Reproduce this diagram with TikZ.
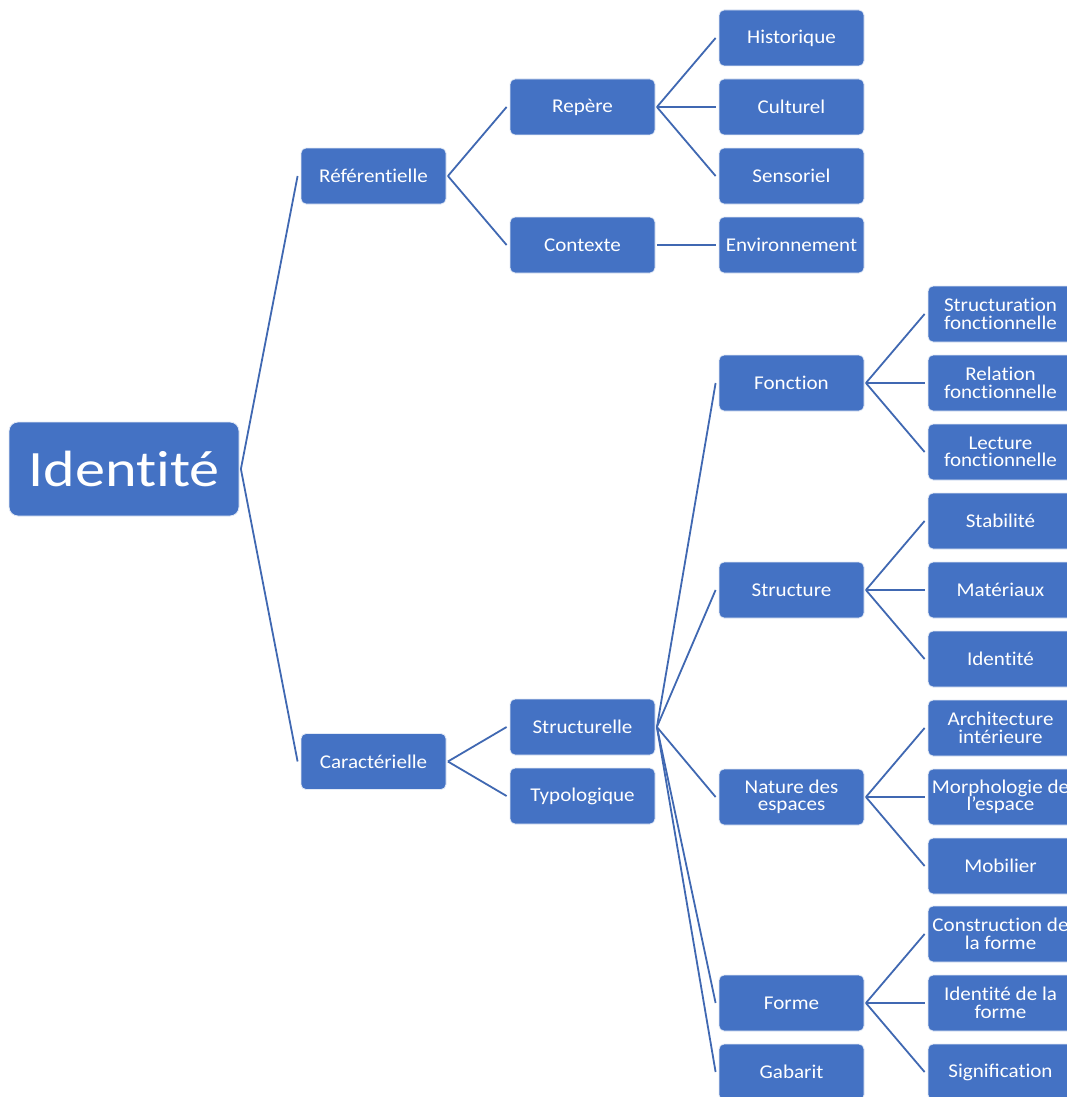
\documentclass[tikz,border=0pt]{standalone}
\usepackage{fontspec}
\setmainfont{Carlito}[FakeStretch=1.08]
\newfontfamily\bigfont{Carlito}[FakeStretch=1.18]
\newcommand\tiX{t\kern0pt i}
\definecolor{boxblue}{HTML}{4472C4}
\definecolor{lineblue}{HTML}{4068B2}
\begin{document}
\begin{tikzpicture}[x=1pt,y=-1pt,
  box/.style={draw=white!85!boxblue, line width=0.8pt, fill=boxblue, rounded corners=5pt,
    minimum width=145pt, minimum height=56pt, inner sep=0pt, text=white, align=center,
    font=\fontsize{19.5}{17.5}\selectfont},
  rootbox/.style={box, minimum width=230pt, minimum height=94pt, rounded corners=9pt,
    font=\bigfont\fontsize{51}{55}\selectfont},
  conn/.style={draw=lineblue, line width=1.8pt}]
\clip (0,0) rectangle (1067,1097);
\fill[white] (0,0) rectangle (1067,1097);
% root
\node[rootbox] (id) at (124,469) {Iden\tiX{}té};
% level 1
\node[box] (ref) at (373.5,176) {Référen\tiX{}elle};
\node[box] (car) at (373.5,761.5) {Caractérielle};
% level 2
\node[box] (rep) at (582.5,107) {Repère};
\node[box] (ctx) at (582.5,245) {Contexte};
\node[box] (str) at (582.5,727) {Structurelle};
\node[box] (typ) at (582.5,796) {Typologique};
% level 3
\node[box] (his) at (791.5,38) {Historique};
\node[box] (cul) at (791.5,107) {Culturel};
\node[box] (sen) at (791.5,176) {Sensoriel};
\node[box] (env) at (791.5,245) {Environnement};
\node[box] (fon) at (791.5,383) {Fonc\tiX{}on};
\node[box] (stu) at (791.5,590) {Structure};
\node[box] (nat) at (791.5,797) {Nature des\\espaces};
\node[box] (for) at (791.5,1003) {Forme};
\node[box] (gab) at (791.5,1072) {Gabarit};
% level 4
\node[box] (sf) at (1000.5,314) {Structura\tiX{}on\\fonc\tiX{}onnelle};
\node[box] (rf) at (1000.5,383) {Rela\tiX{}on\\fonc\tiX{}onnelle};
\node[box] (lf) at (1000.5,452) {Lecture\\fonc\tiX{}onnelle};
\node[box] (sta) at (1000.5,521) {Stabilité};
\node[box] (mat) at (1000.5,590) {Matériaux};
\node[box] (idt) at (1000.5,659) {Iden\tiX{}té};
\node[box] (ai) at (1000.5,728) {Architecture\\intérieure};
\node[box] (me) at (1000.5,797) {Morphologie de\\l’espace};
\node[box] (mob) at (1000.5,866) {Mobilier};
\node[box] (cf) at (1000.5,934) {Construc\tiX{}on de\\la forme};
\node[box] (if) at (1000.5,1003) {Iden\tiX{}té de la\\forme};
\node[box] (sig) at (1000.5,1072) {Significa\tiX{}on};
% connectors
\foreach \a/\b in {id/ref,id/car,ref/rep,ref/ctx,car/str,car/typ,
  rep/his,rep/cul,rep/sen,ctx/env,
  str/fon,str/stu,str/nat,str/for,str/gab,
  fon/sf,fon/rf,fon/lf,stu/sta,stu/mat,stu/idt,
  nat/ai,nat/me,nat/mob,for/cf,for/if,for/sig}
  \draw[conn] ([xshift=1.5pt]\a.east) -- ([xshift=-3pt]\b.west);
\end{tikzpicture}
\end{document}
